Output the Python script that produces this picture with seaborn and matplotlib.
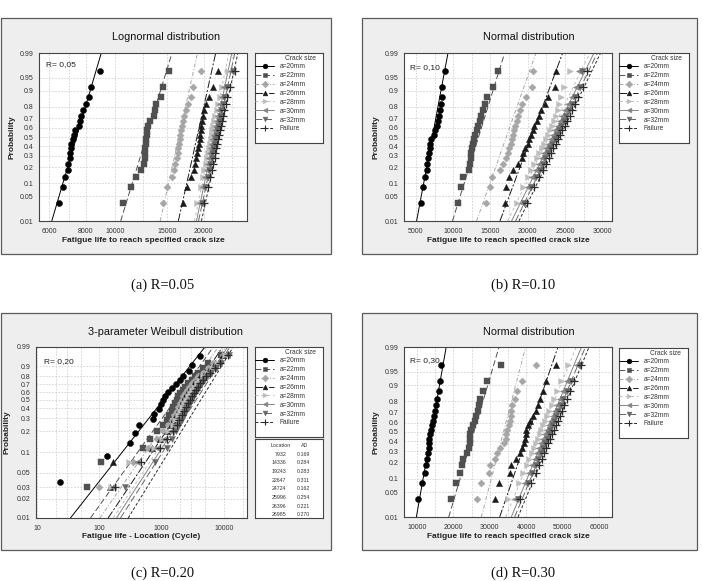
import numpy as np
import pandas as pd
import matplotlib
matplotlib.use("Agg")
import matplotlib.pyplot as plt
import seaborn as sns
from matplotlib.lines import Line2D
from matplotlib.patches import Rectangle
from matplotlib.ticker import FixedLocator, FixedFormatter, NullFormatter, NullLocator
from statistics import NormalDist

# ---------------------------------------------------------------- data
crack_labels = ["a=20mm", "a=22mm", "a=24mm", "a=26mm", "a=28mm", "a=30mm", "a=32mm", "Failure"]

# plotting positions (probability) read from the rows of points
prob_20pts = [0.034, 0.083, 0.132, 0.181, 0.230, 0.279, 0.328, 0.377, 0.426, 0.475,
              0.525, 0.574, 0.623, 0.672, 0.721, 0.770, 0.819, 0.868, 0.917, 0.966]
prob_c_20mm = [0.036, 0.088, 0.139, 0.191, 0.242, 0.294, 0.345, 0.397, 0.448, 0.500,
               0.552, 0.603, 0.655, 0.706, 0.758, 0.809, 0.861, 0.912, 0.964]
prob_c_other = [0.030, 0.073, 0.115, 0.158, 0.201, 0.244, 0.286, 0.329, 0.372, 0.415, 0.457, 0.500,
                0.543, 0.585, 0.628, 0.671, 0.714, 0.756, 0.799, 0.842, 0.885, 0.927, 0.970]

# (a) R=0.05, lognormal
a_20 = [6460, 6690, 6820, 6950, 6980, 7060, 7090, 7110, 7130, 7230, 7260, 7360, 7580, 7640, 7670, 7820, 8010, 8210, 8350, 8910]
a_22 = [10710, 11340, 11800, 12270, 12530, 12660, 12680, 12690, 12730, 12790, 12830, 12890, 12960, 13130, 13560, 13690, 13830, 14390, 14550, 15290]
a_24 = [14610, 15040, 15620, 15860, 16030, 16240, 16370, 16410, 16500, 16580, 16670, 16760, 16840, 16970, 17160, 17380, 17710, 18070, 18360, 19500]
a_26 = [17020, 17570, 18170, 18510, 18650, 18800, 18940, 19150, 19240, 19350, 19460, 19550, 19650, 19700, 19810, 19970, 20280, 20820, 21480, 22420]
a_28 = [19000, 19600, 19900, 20100, 20300, 20500, 20650, 20800, 20950, 21100, 21250, 21400, 21550, 21700, 21900, 22100, 22350, 22650, 23000, 24200]
a_30 = [19450, 19900, 20250, 20500, 20700, 20900, 21050, 21200, 21350, 21500, 21650, 21800, 21950, 22100, 22300, 22500, 22750, 23050, 23500, 24800]
a_32 = [19800, 20250, 20600, 20850, 21050, 21250, 21400, 21550, 21700, 21850, 22000, 22150, 22300, 22500, 22700, 22900, 23150, 23500, 23950, 25200]
a_fail = [20100, 20700, 21050, 21300, 21550, 21750, 21900, 22050, 22200, 22350, 22500, 22650, 22800, 23000, 23200, 23450, 23700, 24050, 24500, 25500]
fit_lo_a = [6130, 10480, 14250, 16410, 18610, 18900, 19200, 19650]     # life at p=0.01
fit_hi_a = [9010, 15620, 19050, 21950, 24300, 24880, 25470, 26080]     # life at p=0.99

# (b) R=0.10, normal
b_20 = [5630, 5940, 6250, 6430, 6520, 6650, 6790, 6880, 6920, 7010, 7410, 7550, 7770, 7910, 8040, 8220, 8400, 8490, 8530, 8940]
b_22 = [10670, 11030, 11350, 12100, 12240, 12330, 12370, 12460, 12600, 12770, 12950, 13130, 13360, 13530, 13710, 14030, 14290, 14560, 15370, 15950]
b_24 = [14350, 14930, 15150, 16270, 16720, 17030, 17300, 17480, 17700, 17840, 17970, 18150, 18280, 18500, 18730, 18950, 19270, 19760, 20520, 20650]
b_26 = [16900, 17050, 17500, 17970, 18730, 19180, 19400, 19620, 19980, 20200, 20430, 20650, 20880, 21190, 21500, 21730, 22310, 22660, 23650, 23740]
b_28 = [18510, 19400, 20000, 20500, 20900, 21250, 21550, 21850, 22150, 22450, 22700, 22950, 23250, 23500, 23750, 24000, 24250, 24500, 24860, 25660]
b_30 = [19180, 20000, 20600, 21100, 21500, 21850, 22200, 22500, 22800, 23100, 23400, 23700, 24000, 24300, 24650, 25000, 25400, 25900, 26500, 26910]
b_32 = [19490, 20450, 21100, 21600, 22000, 22350, 22700, 23000, 23300, 23600, 23900, 24200, 24500, 24800, 25150, 25500, 25900, 26350, 26950, 27230]
b_fail = [19850, 20900, 21500, 22050, 22450, 22800, 23150, 23450, 23750, 24050, 24350, 24650, 24950, 25250, 25600, 25950, 26350, 26800, 27450, 27900]
fit_lo_b = [5090, 9900, 13140, 16270, 17300, 17830, 18370, 18820]
fit_hi_b = [9300, 16900, 21100, 24680, 28340, 28880, 29330, 29770]

# (c) R=0.20, 3-parameter Weibull (life - location)
c_20 = [23.7, 133, 308, 371, 435, 713, 740, 912, 960, 1030, 1150, 1270, 1440, 1700, 1960, 2220, 2770, 3020, 4110]
c_22 = [63.5, 108, 493, 646, 827, 1058, 1197, 1321, 1441, 1532, 1629, 1733, 1843, 1961, 2163, 2359, 2668, 3020, 3416, 3865, 4648, 5596, 8830]
c_24 = [99, 349, 608, 827, 1059, 1274, 1440, 1571, 1733, 1844, 1960, 2085, 2218, 2359, 2512, 2767, 3020, 3420, 3864, 4645, 5598, 6730, 9506]
c_26 = [147, 166, 688, 935, 1197, 1388, 1532, 1690, 1844, 1960, 2085, 2218, 2388, 2570, 2767, 3020, 3289, 3631, 4111, 4943, 5957, 7161, 9750]
c_28 = [156, 301, 750, 995, 1274, 1495, 1649, 1820, 1986, 2138, 2274, 2415, 2606, 2805, 3020, 3289, 3631, 4009, 4539, 5395, 6486, 7798, 10370]
c_30 = [166, 405, 827, 1085, 1388, 1630, 1799, 1986, 2163, 2328, 2477, 2636, 2838, 3055, 3289, 3589, 3963, 4365, 4943, 5808, 6902, 8298, 11020]
c_32 = [256, 778, 1197, 1440, 1690, 1914, 2110, 2301, 2477, 2667, 2838, 3020, 3214, 3459, 3724, 4009, 4365, 4820, 5395, 6252, 7430, 8830, 12170]
c_fail = [177, 457, 935, 1227, 1495, 1733, 1914, 2110, 2301, 2477, 2636, 2805, 3020, 3251, 3499, 3819, 4159, 4592, 5129, 6026, 7161, 8610, 11590]
fit_lo_c = [34.3, 71.9, 101.6, 138, 166, 188, 218, 290]
fit_hi_c = [4940, 6730, 8090, 9500, 10370, 11430, 12470, 14090]
ad_location = [7932, 14336, 19243, 22647, 24724, 25996, 26396, 26985]
ad_stat = [0.169, 0.284, 0.283, 0.311, 0.162, 0.254, 0.221, 0.270]

# (d) R=0.30, normal
d_20 = [10280, 11470, 12110, 12380, 12840, 13020, 13210, 13300, 13390, 13480, 13760, 14030, 14300, 14580, 14950, 15220, 15590, 15950, 16320, 16590]
d_22 = [19430, 20620, 21720, 22450, 22640, 23830, 24290, 24470, 24560, 24650, 24840, 25390, 25840, 26300, 26760, 27030, 27400, 28130, 29230, 33170]
d_24 = [26480, 27490, 29780, 30150, 31520, 31980, 32710, 33810, 34360, 34540, 34820, 35280, 35460, 35730, 35920, 36190, 36830, 37470, 38850, 42600]
d_26 = [31520, 32440, 35460, 35730, 37290, 38390, 38850, 39310, 39580, 39850, 40040, 40500, 40950, 41870, 42790, 43240, 43700, 44620, 45350, 48280]
d_28 = [35000, 38000, 39200, 40100, 40900, 41500, 42100, 42700, 43200, 43700, 44200, 44700, 45200, 45800, 46400, 47000, 47700, 48500, 49600, 51490]
d_30 = [36830, 39600, 40800, 41700, 42400, 43000, 43600, 44200, 44700, 45200, 45700, 46200, 46700, 47300, 47900, 48500, 49200, 50100, 51300, 54050]
d_32 = [37750, 40500, 41700, 42600, 43300, 43950, 44550, 45100, 45650, 46150, 46650, 47150, 47700, 48250, 48850, 49500, 50200, 51100, 52300, 54690]
d_fail = [38300, 41300, 42600, 43500, 44250, 44900, 45500, 46050, 46600, 47100, 47600, 48150, 48700, 49250, 49850, 50500, 51200, 52100, 53200, 55150]
fit_lo_d = [9800, 18700, 27670, 32710, 34360, 35920, 36830, 37750]
fit_hi_d = [18000, 32530, 39850, 48740, 53800, 55200, 56300, 57300]

prob_ticks_normal = [0.01, 0.05, 0.1, 0.2, 0.3, 0.4, 0.5, 0.6, 0.7, 0.8, 0.9, 0.95, 0.99]
prob_ticks_weibull = [0.01, 0.02, 0.03, 0.05, 0.1, 0.2, 0.3, 0.4, 0.5, 0.6, 0.7, 0.8, 0.9, 0.99]
xticks_a = [6000, 8000, 10000, 15000, 20000]
xgrid_a = [7000, 12500, 25000]
xticks_b = [5000, 10000, 15000, 20000, 25000, 30000]
xgrid_b = [7500, 12500, 17500, 22500, 27500]
xticks_c = [10, 100, 1000, 10000]
xgrid_c = [20, 30, 50, 200, 300, 500, 2000, 3000, 5000, 20000]
xticks_d = [10000, 20000, 30000, 40000, 50000, 60000]
xgrid_d = [15000, 25000, 35000, 45000, 55000]

# ---------------------------------------------------------------- style
sns.set_theme(style="white")
plt.rcParams["font.family"] = ["Liberation Sans", "DejaVu Sans"]

W, H = 703, 581
colors = ["#000000", "#505050", "#a6a6a6", "#1a1a1a", "#bdbdbd", "#858585", "#676767", "#2a2a2a"]
markers = ["o", "s", "D", "^", ">", "<", "v", "+"]
msizes = [19, 17, 13, 20, 19, 19, 19, 28]
lstyles = ["-", (0, (6, 3)), (0, (4, 2, 1, 2)), (0, (8, 2, 2, 2)), (0, (3, 3)), "-", (0, (7, 3)), (0, (3, 2))]
GRID = "#c9c9c9"
EDGE = "#444444"

nd = NormalDist()


def _ppf1(p):
    p = float(p)
    if not np.isfinite(p):
        return np.nan
    return nd.inv_cdf(min(max(p, 1e-7), 1 - 1e-7))


def _cdf1(z):
    z = float(z)
    if not np.isfinite(z):
        return np.nan
    return nd.cdf(z)


_ppf = np.vectorize(_ppf1, otypes=[float])
_cdf = np.vectorize(_cdf1, otypes=[float])


def norm_fwd(p):
    return _ppf(np.asarray(p, dtype=float))


def norm_inv(z):
    return _cdf(np.asarray(z, dtype=float))


def wb_fwd(p):
    p = np.clip(np.asarray(p, dtype=float), 1e-9, 1 - 1e-9)
    return np.log(-np.log1p(-p))


def wb_inv(y):
    return -np.expm1(-np.exp(np.asarray(y, dtype=float)))


def frac_rect(x0, y0, x1, y1):
    return [x0 / W, 1 - y1 / H, (x1 - x0) / W, (y1 - y0) / H]


def ftext(x, y, s, **kw):
    fig.text(x / W, 1 - y / H, s, **kw)


fig = plt.figure(figsize=(W / 100, H / 100), dpi=100)
fig.patch.set_facecolor("white")

panels = [
    dict(frame=(0.5, 18, 331, 254), ax=(39, 53, 247, 221), leg=(255, 53, 323, 143),
         title="Lognormal distribution", title_xy=(166, 37),
         xlabel="Fatigue life to reach specified crack size", xlabel_xy=(143, 241), ylabel_xy=(12, 137),
         rtext="R= 0,05", r_xy=(46, 65), caption="(a) R=0.05", cap_xy=(163, 285),
         data=[a_20, a_22, a_24, a_26, a_28, a_30, a_32, a_fail], probs=[prob_20pts] * 8,
         lo=fit_lo_a, hi=fit_hi_a, xscale="log", yscale="normal", xlim=(5550, 28000),
         xticks=xticks_a, xgrid=xgrid_a),
    dict(frame=(362, 18, 697, 254), ax=(404, 53, 612, 221), leg=(619, 53, 689, 143),
         title="Normal distribution", title_xy=(529, 37),
         xlabel="Fatigue life to reach specified crack size", xlabel_xy=(508, 241), ylabel_xy=(376, 137),
         rtext="R= 0,10", r_xy=(410, 68), caption="(b) R=0.10", cap_xy=(523, 285),
         data=[b_20, b_22, b_24, b_26, b_28, b_30, b_32, b_fail], probs=[prob_20pts] * 8,
         lo=fit_lo_b, hi=fit_hi_b, xscale="linear", yscale="normal", xlim=(3400, 31300),
         xticks=xticks_b, xgrid=xgrid_b),
    dict(frame=(0.5, 313, 331, 550), ax=(36, 347, 247, 518), leg=(255, 347, 323, 437),
         title="3-parameter Weibull distribution", title_xy=(166, 332),
         xlabel="Fatigue life - Location (Cycle)", xlabel_xy=(141, 537), ylabel_xy=(7, 432),
         rtext="R= 0,20", r_xy=(44, 362), caption="(c) R=0.20", cap_xy=(163, 573),
         data=[c_20, c_22, c_24, c_26, c_28, c_30, c_32, c_fail],
         probs=[prob_c_20mm] + [prob_c_other] * 7,
         lo=fit_lo_c, hi=fit_hi_c, xscale="log", yscale="weibull", xlim=(9.6, 23400),
         xticks=xticks_c, xgrid=xgrid_c),
    dict(frame=(362, 313, 697, 550), ax=(404, 347, 612, 517), leg=(619, 348, 688, 438),
         title="Normal distribution", title_xy=(529, 332),
         xlabel="Fatigue life to reach specified crack size", xlabel_xy=(508, 537), ylabel_xy=(376, 432),
         rtext="R= 0,30", r_xy=(410, 361), caption="(d) R=0.30", cap_xy=(523, 573),
         data=[d_20, d_22, d_24, d_26, d_28, d_30, d_32, d_fail], probs=[prob_20pts] * 8,
         lo=fit_lo_d, hi=fit_hi_d, xscale="linear", yscale="normal", xlim=(6400, 63600),
         xticks=xticks_d, xgrid=xgrid_d),
]

handles = []
for i in range(8):
    handles.append(Line2D([], [], color=colors[i], ls=lstyles[i], lw=0.7, marker=markers[i],
                          markersize=3.4 if markers[i] != "+" else 4.4,
                          markerfacecolor=colors[i], markeredgecolor=colors[i],
                          markeredgewidth=0.8 if markers[i] == "+" else 0.4))

for P in panels:
    x0, y0, x1, y1 = P["frame"]
    fig.add_artist(Rectangle((x0 / W, 1 - y1 / H), (x1 - x0) / W, (y1 - y0) / H,
                             transform=fig.transFigure, facecolor="#eeeeee",
                             edgecolor="#5a5a5a", lw=0.9, zorder=-5))
    ax = fig.add_axes(frac_rect(*P["ax"]))
    ax.set_facecolor("white")
    if P["yscale"] == "normal":
        ax.set_yscale("function", functions=(norm_fwd, norm_inv))
        yt = prob_ticks_normal
    else:
        ax.set_yscale("function", functions=(wb_fwd, wb_inv))
        yt = prob_ticks_weibull
    if P["xscale"] == "log":
        ax.set_xscale("log")

    for i in range(8):
        ax.plot([P["lo"][i], P["hi"][i]], [0.01, 0.99], color=colors[i], ls=lstyles[i],
                lw=0.7, zorder=2)
    for i in range(8):
        df = pd.DataFrame({"life": P["data"][i], "prob": P["probs"][i]})
        kw = dict(data=df, x="life", y="prob", marker=markers[i], color=colors[i],
                  s=msizes[i], ax=ax, legend=False, zorder=3)
        if markers[i] == "+":
            kw["linewidth"] = 0.9
        else:
            kw["edgecolor"] = colors[i]
            kw["linewidth"] = 0.3
        sns.scatterplot(**kw)

    ax.set_xlim(*P["xlim"])
    ax.set_ylim(0.01, 0.99)
    ax.yaxis.set_major_locator(FixedLocator(yt))
    ax.yaxis.set_major_formatter(FixedFormatter([str(v) for v in yt]))
    ax.yaxis.set_minor_locator(NullLocator())
    ax.xaxis.set_major_locator(FixedLocator(P["xticks"]))
    ax.xaxis.set_major_formatter(FixedFormatter([str(v) for v in P["xticks"]]))
    ax.xaxis.set_minor_locator(FixedLocator(P["xgrid"]))
    ax.xaxis.set_minor_formatter(NullFormatter())
    ax.tick_params(axis="both", which="major", labelsize=5, length=2.5, width=0.5,
                   colors="#333333", pad=1.5, direction="out")
    ax.tick_params(axis="x", which="major", pad=2.2)
    ax.tick_params(axis="both", which="minor", length=0)
    ax.grid(True, which="both", axis="both", color=GRID, ls=(0, (2.5, 2)), lw=0.5)
    ax.set_axisbelow(True)
    ax.set_xlabel("")
    ax.set_ylabel("")
    for s in ax.spines.values():
        s.set_color(EDGE)
        s.set_linewidth(0.8)

    rx, ry = P["r_xy"]
    ftext(rx, ry, P["rtext"], fontsize=6, color="#222222", ha="left", va="center")
    tx, ty = P["title_xy"]
    ftext(tx, ty, P["title"], fontsize=7.8, color="#111111", ha="center", va="center")
    lx, ly = P["xlabel_xy"]
    ftext(lx, ly, P["xlabel"], fontsize=6, fontweight="bold", color="#222222", ha="center", va="center")
    yx, yy = P["ylabel_xy"]
    ftext(yx, yy, "Probability", fontsize=6, fontweight="bold", color="#222222",
          ha="center", va="center", rotation=90)
    cx, cy = P["cap_xy"]
    ftext(cx, cy, P["caption"], fontsize=10.5, family=["Liberation Serif", "DejaVu Serif"],
          color="#111111", ha="center", va="center")

    # legend box
    lax = fig.add_axes(frac_rect(*P["leg"]))
    lax.set_facecolor("white")
    lax.set_xticks([])
    lax.set_yticks([])
    for s in lax.spines.values():
        s.set_color(EDGE)
        s.set_linewidth(0.8)
    lax.text(0.9, 0.935, "Crack size", transform=lax.transAxes, fontsize=4.8,
             ha="right", va="center", color="#333333")
    lax.legend(handles, crack_labels, loc="upper left", bbox_to_anchor=(0.0, 0.885),
               frameon=False, fontsize=4.8, handlelength=2.9, handletextpad=0.8,
               labelspacing=0.28, borderpad=0.0, borderaxespad=0.0, labelcolor="#333333")

# AD table for panel (c)
tax = fig.add_axes(frac_rect(255, 439, 323, 518))
tax.set_facecolor("white")
tax.set_xticks([])
tax.set_yticks([])
tax.set_xlim(0, 1)
tax.set_ylim(0, 1)
for s in tax.spines.values():
    s.set_color(EDGE)
    s.set_linewidth(0.8)
tax.text(0.38, 0.92, "Location", fontsize=3.8, ha="center", va="center", color="#333333")
tax.text(0.735, 0.92, "AD", fontsize=3.8, ha="center", va="center", color="#333333")
for i, (loc, st) in enumerate(zip(ad_location, ad_stat)):
    yy = 0.81 - 0.110 * i
    tax.text(0.46, yy, str(loc), fontsize=3.8, ha="right", va="center", color="#333333", clip_on=True)
    tax.text(0.81, yy, f"{st:.3f}", fontsize=3.8, ha="right", va="center", color="#333333", clip_on=True)

fig.savefig("out.png", dpi=100)
